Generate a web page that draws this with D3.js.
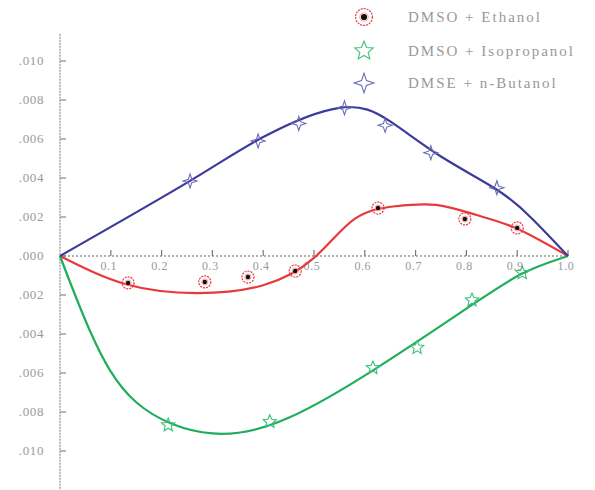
<!DOCTYPE html>
<html><head><meta charset="utf-8">
<script src="https://cdn.jsdelivr.net/npm/d3@7"></script>
<style>body{margin:0;background:#fff}svg{display:block}</style>
</head><body>
<script>
// ---- data ----
const seriesNames = ["DMSO + Ethanol", "DMSO + Isopropanol", "DMSE + n-Butanol"];
const xTicks = [0.1,0.2,0.3,0.4,0.5,0.6,0.7,0.8,0.9,1.0];
const xTickLabels = ["0.1","0.2","0.3","0.4","0.5","0.6","0.7","0.8","0.9","1.0"];
const yTicks = [0.010,0.008,0.006,0.004,0.002,0.000,-0.002,-0.004,-0.006,-0.008,-0.010];
const yTickLabels = [".010",".008",".006",".004",".002",".000",".002",".004",".006",".008",".010"];

// measured points (markers)
const ethanolX = [0.134,0.285,0.37,0.463,0.626,0.797,0.90];
const ethanolY = [-0.00138,-0.00133,-0.00108,-0.00077,0.00246,0.0019,0.00144];
const isoX = [0.213,0.413,0.616,0.703,0.811,0.91];
const isoY = [-0.00867,-0.0085,-0.00574,-0.0047,-0.00226,-0.00087];
const butX = [0.256,0.39,0.47,0.56,0.64,0.73,0.86];
const butY = [0.00385,0.0059,0.0068,0.0076,0.0067,0.0053,0.0035];

// fitted curves
const ethanolFitX = [0,0.13,0.27,0.4,0.5,0.58,0.66,0.74,0.82,0.9,1.0];
const ethanolFitY = [0,-0.00145,-0.0019,-0.0015,-0.0001,0.0019,0.00255,0.00262,0.0021,0.0014,0];
const isoFitX = [0,0.06,0.15,0.3,0.45,0.62,0.8,0.91,1.0];
const isoFitY = [0,-0.0039,-0.0075,-0.0091,-0.0083,-0.0058,-0.0027,-0.0009,0];
const butFitX = [0,0.256,0.4,0.55,0.65,0.75,0.86,0.93,1.0];
const butFitY = [0,0.00385,0.0061,0.0076,0.0069,0.0051,0.0034,0.0019,0];

const colors = ["#e8383c","#20ad5c","#3b3b9c"];

const W=595,H=490;
const svg=d3.select("body").append("svg").attr("width",W).attr("height",H);
const x=d3.scaleLinear().domain([0,1]).range([60,568]);
const y=d3.scaleLinear().domain([-0.010,0.010]).range([451,61]);
const serif="'Liberation Serif','DejaVu Serif',serif";

// y axis
svg.append("line").attr("x1",x(0)).attr("x2",x(0)).attr("y1",y(0.0114)).attr("y2",H)
  .attr("stroke","#999").attr("stroke-width",1.3).attr("stroke-dasharray","2,1");
svg.selectAll(".ytick").data(yTicks).enter().append("line")
  .attr("x1",x(0)).attr("x2",x(0)+6).attr("y1",d=>y(d)).attr("y2",d=>y(d))
  .attr("stroke","#888").attr("stroke-width",1.2);
svg.selectAll(".ylab").data(yTicks).enter().append("text")
  .attr("x",44).attr("y",d=>y(d)+4).attr("text-anchor","end")
  .attr("font-family",serif).attr("font-size",13).attr("letter-spacing",0.6)
  .attr("fill","#999").text((d,i)=>yTickLabels[i]);

// x axis (dotted)
svg.append("line").attr("x1",x(0)).attr("x2",x(1)).attr("y1",y(0)).attr("y2",y(0))
  .attr("stroke","#666").attr("stroke-width",1.2).attr("stroke-dasharray","2,2");
svg.selectAll(".xtick").data(xTicks).enter().append("line")
  .attr("x1",d=>x(d)).attr("x2",d=>x(d)).attr("y1",y(0)).attr("y2",y(0)-6)
  .attr("stroke","#777").attr("stroke-width",1.2);
svg.selectAll(".xlab").data(xTicks).enter().append("text")
  .attr("x",d=>x(d)-2).attr("y",y(0)+14).attr("text-anchor","middle")
  .attr("font-family",serif).attr("font-size",12).attr("letter-spacing",0.6)
  .attr("fill","#999").text((d,i)=>xTickLabels[i]);

// curves
const line=d3.line().x(d=>x(d[0])).y(d=>y(d[1])).curve(d3.curveNatural);
const fits=[[ethanolFitX,ethanolFitY],[isoFitX,isoFitY],[butFitX,butFitY]];
fits.forEach((f,i)=>{
  svg.append("path").datum(f[0].map((v,j)=>[v,f[1][j]])).attr("d",line)
    .attr("fill","none").attr("stroke",colors[i]).attr("stroke-width",2.2);
});

// marker shapes
function star4(cx,cy,r,inner){
  const pts=[];
  for(let k=0;k<8;k++){
    const a=-Math.PI/2+k*Math.PI/4;
    const rr=k%2===0?r:r*inner;
    pts.push([cx+rr*Math.cos(a),cy+rr*Math.sin(a)]);
  }
  return "M"+pts.map(p=>p.join(",")).join("L")+"Z";
}
function star5(cx,cy,r){
  const pts=[];
  for(let k=0;k<10;k++){
    const a=-Math.PI/2+k*Math.PI/5;
    const rr=k%2===0?r:r*0.45;
    pts.push([cx+rr*Math.cos(a),cy+rr*Math.sin(a)]);
  }
  return "M"+pts.map(p=>p.join(",")).join("L")+"Z";
}
function drawMarker(g,type,cx,cy,s){
  if(type===0){
    g.append("circle").attr("cx",cx).attr("cy",cy).attr("r",6*s)
      .attr("fill","none").attr("stroke","#e8383c").attr("stroke-width",1.2).attr("stroke-dasharray","2,1");
    g.append("circle").attr("cx",cx).attr("cy",cy).attr("r",3*s)
      .attr("fill","none").attr("stroke","#f08a8a").attr("stroke-width",0.8);
    g.append("circle").attr("cx",cx).attr("cy",cy).attr("r",2.2*s).attr("fill","#111");
  } else if(type===1){
    g.append("path").attr("d",star5(cx,cy,7*s)).attr("fill","none")
      .attr("stroke","#3cc07a").attr("stroke-width",1.1);
  } else {
    g.append("path").attr("d",star4(cx,cy,7*s,0.35)).attr("fill","none")
      .attr("stroke","#6a6ab8").attr("stroke-width",1.1);
  }
}
const markers=[[ethanolX,ethanolY],[isoX,isoY],[butX,butY]];
const mg=svg.append("g");
markers.forEach((m,i)=>{
  m[0].forEach((v,j)=>drawMarker(mg,i,x(v),y(m[1][j]),1));
});

// legend
const legY=[17,51,83];
const lg=svg.append("g");
seriesNames.forEach((n,i)=>{
  drawMarker(lg,i,364,legY[i],1.4);
  lg.append("text").attr("x",408).attr("y",legY[i]+5)
    .attr("font-family",serif).attr("font-size",15).attr("letter-spacing",2)
    .attr("fill","#999").text(n);
});
</script>
</body></html>
